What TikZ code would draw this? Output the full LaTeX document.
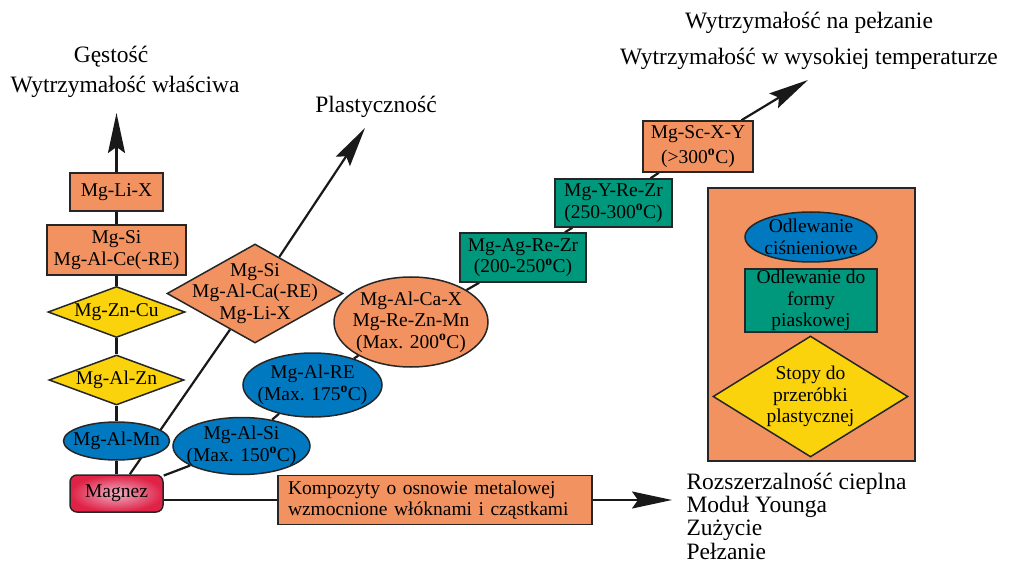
\documentclass[tikz,border=0pt]{standalone}
\usepackage{fontspec}
\setmainfont{Liberation Serif}
\usetikzlibrary{shapes.geometric,arrows.meta,backgrounds}
\definecolor{pomar}{RGB}{242,146,96}
\definecolor{niebieski}{RGB}{0,121,192}
\definecolor{zielony}{RGB}{0,152,124}
\definecolor{zolty}{RGB}{250,211,12}
\definecolor{czerw}{RGB}{224,34,70}
\definecolor{roz}{RGB}{238,176,196}
\newcommand{\stC}{\textsuperscript{\textbf{o}}C}

\begin{document}
\begin{tikzpicture}[x=1pt,y=-1pt,
    wezel/.style={draw=black!85,line width=1.5pt,inner sep=-40pt,align=center,font=\fontsize{19.5}{21.5}\selectfont},
    prost/.style={wezel,rectangle,fill=pomar},
    elip/.style={wezel,ellipse,fill=niebieski},
    romb/.style={wezel,diamond,fill=zolty},
    polaczenie/.style={line width=2.2pt,black!90},
    strzalka/.style={polaczenie,-{Stealth[length=40pt,width=17pt,inset=6pt]}},
    opis/.style={font=\fontsize{23.5}{23.3}\selectfont}]
    \useasboundingbox (0,0) rectangle (1015,564);

    \node[wezel,rectangle,rounded corners=7pt,inner color=roz,outer color=czerw,minimum width=93,minimum height=37] (magnez) at (116.5,493.5) {Magnez};
    \node[elip,minimum width=106,minimum height=38] (mgalmn) at (116.5,441) {Mg-Al-Mn};
    \node[romb,minimum width=135,minimum height=50] (mgalzn) at (116.5,380) {Mg-Al-Zn};
    \node[romb,minimum width=137,minimum height=51] (mgzncu) at (116.5,312) {Mg-Zn-Cu};
    \node[prost,minimum width=139,minimum height=50] (mgsice) at (116.5,250) {Mg-Si\\Mg-Al-Ce(-RE)};
    \node[prost,minimum width=93,minimum height=38] (mglix) at (116.5,192) {Mg-Li-X};
    \coordinate (gestip) at (116.5,113);

    \node[romb,fill=pomar,minimum width=176,minimum height=99] (mgsica) at (255,293.5) {Mg-Si\\Mg-Al-Ca(-RE)\\Mg-Li-X};
    \coordinate (plasttip) at (365,128);

    \node[elip,minimum width=137,minimum height=57] (mgalsi) at (241.5,446) {Mg-Al-Si\\(Max. 150\stC)};
    \node[elip,minimum width=139,minimum height=64] (mgalre) at (312.5,385) {Mg-Al-RE\\(Max. 175\stC)};
    \node[elip,fill=pomar,minimum width=154,minimum height=90] (mgalcax) at (411,322) {Mg-Al-Ca-X\\Mg-Re-Zn-Mn\\(Max. 200\stC)};
    \node[prost,fill=zielony,minimum width=126,minimum height=49] (mgagrezr) at (523,257.5) {Mg-Ag-Re-Zr\\(200-250\stC)};
    \node[prost,fill=zielony,minimum width=117,minimum height=48] (mgyrezr) at (613.5,203) {Mg-Y-Re-Zr\\(250-300\stC)};
    \node[prost,minimum width=110,minimum height=51,font=\fontsize{19.5}{25}\selectfont] (mgscxy) at (698,146.5) {Mg-Sc-X-Y\\(>300\stC)};
    \coordinate (temptip) at (808,80);

    \node[prost,inner sep=0pt,inner xsep=10pt,text width=294pt,align=left,minimum height=49] (kompozyty) at (435,500) {Kompozyty o osnowie metalowej\\wzmocnione włóknami i cząstkami};
    \coordinate (komptip) at (672,500);

    \node[prost,minimum width=207,minimum height=273] (legenda) at (811.5,324.5) {};
    \node[elip,minimum width=132,minimum height=50] (cisnieniowe) at (811,237) {Odlewanie\\ciśnieniowe};
    \node[prost,fill=zielony,minimum width=132,minimum height=63] (piaskowa) at (811,300.5) {Odlewanie do\\formy\\piaskowej};
    \node[romb,minimum width=195,minimum height=121] (przerobka) at (810.5,396.5) {Stopy do\\przeróbki\\plastycznej};

    \node[opis] (gestosc) at (111,57) {Gęstość};
    \node[opis] (wlasciwa) at (125,87) {Wytrzymałość właściwa};
    \node[opis] (plastycznosc) at (376,107) {Plastyczność};
    \node[opis,align=center,font=\fontsize{23.5}{36}\selectfont] (pelzanie) at (809,41) {Wytrzymałość na pełzanie\\Wytrzymałość w wysokiej temperaturze};
    \node[opis,align=left,anchor=west] (wlasnosci) at (683,516) {Rozszerzalność cieplna\\Moduł Younga\\Zużycie\\Pełzanie};

    \begin{scope}[on background layer]
    \foreach \a/\b in {magnez/mgalmn,mgalmn/mgalzn,mgalzn/mgzncu,mgzncu/mgsice,mgsice/mglix,
                       magnez/mgalsi,mgalsi/mgalre,mgalre/mgalcax,mgalcax/mgagrezr,mgagrezr/mgyrezr,mgyrezr/mgscxy,
                       magnez/mgsica}
        \draw[polaczenie] (\a) -- (\b);
    \draw[polaczenie] (magnez.east |- kompozyty) -- (kompozyty);
    \draw[strzalka] (mglix) -- (gestip);
    \draw[strzalka] (mgsica) -- (plasttip);
    \draw[strzalka] (mgscxy) -- (temptip);
    \draw[strzalka] (kompozyty) -- (komptip);
    \end{scope}
\end{tikzpicture}
\end{document}
